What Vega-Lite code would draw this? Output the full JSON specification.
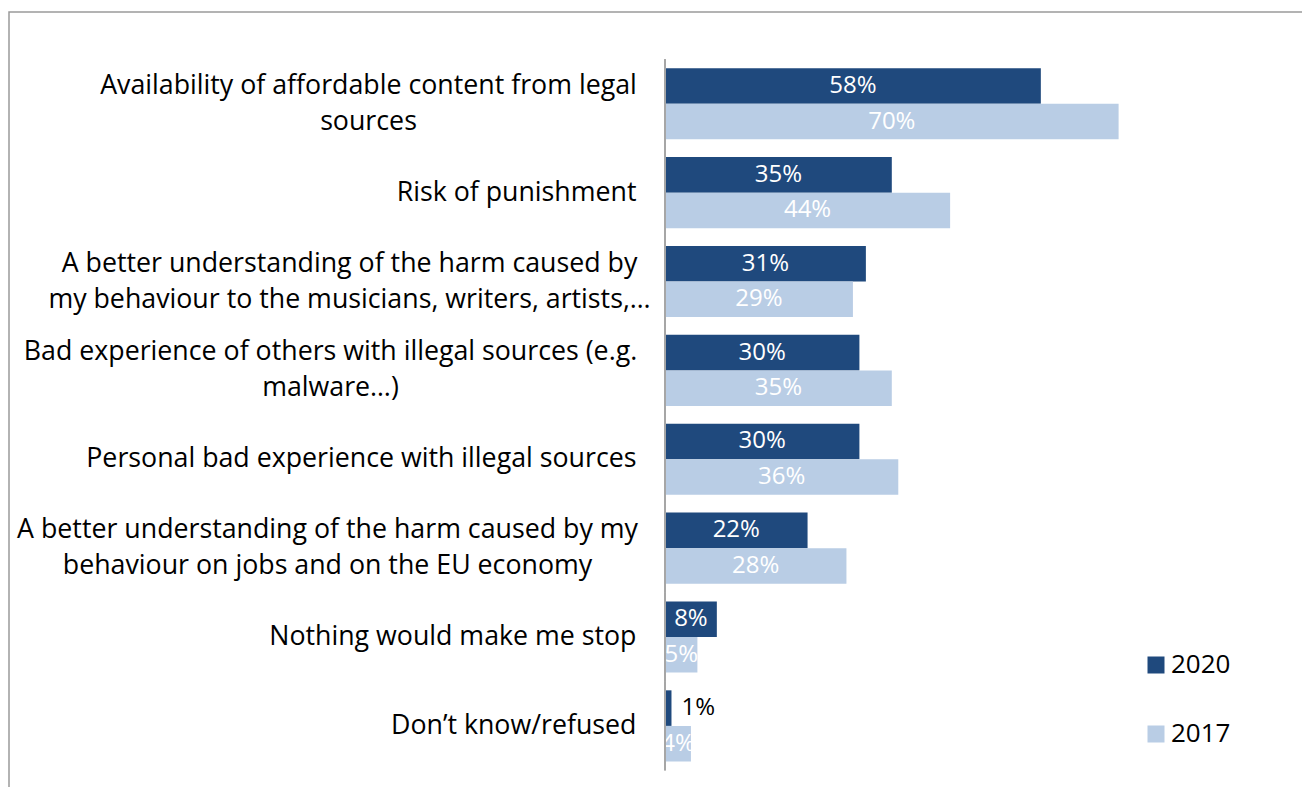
{
  "$schema": "https://vega.github.io/schema/vega-lite/v6.json",
  "autosize": "none",
  "width": 1299,
  "height": 785,
  "padding": {"left": 9, "top": 12, "right": -6, "bottom": -10},
  "background": "white",
  "config": {"view": {"stroke": "#9A9A9A", "strokeWidth": 1.5}, "font": "Open Sans"},
  "data": {
    "values": [
      {"item": "Availability of affordable content from legal|sources", "year": "2020", "value": 0.58},
      {"item": "Availability of affordable content from legal|sources", "year": "2017", "value": 0.70},
      {"item": "Risk of punishment", "year": "2020", "value": 0.35},
      {"item": "Risk of punishment", "year": "2017", "value": 0.44},
      {"item": "A better understanding of the harm caused by|my behaviour to the musicians, writers, artists,…", "year": "2020", "value": 0.31},
      {"item": "A better understanding of the harm caused by|my behaviour to the musicians, writers, artists,…", "year": "2017", "value": 0.29},
      {"item": "Bad experience of others with illegal sources (e.g.|malware…)", "year": "2020", "value": 0.30},
      {"item": "Bad experience of others with illegal sources (e.g.|malware…)", "year": "2017", "value": 0.35},
      {"item": "Personal bad experience with illegal sources", "year": "2020", "value": 0.30},
      {"item": "Personal bad experience with illegal sources", "year": "2017", "value": 0.36},
      {"item": "A better understanding of the harm caused by my|behaviour on jobs and on the EU economy", "year": "2020", "value": 0.22},
      {"item": "A better understanding of the harm caused by my|behaviour on jobs and on the EU economy", "year": "2017", "value": 0.28},
      {"item": "Nothing would make me stop", "year": "2020", "value": 0.08},
      {"item": "Nothing would make me stop", "year": "2017", "value": 0.05},
      {"item": "Don’t know/refused", "year": "2020", "value": 0.01},
      {"item": "Don’t know/refused", "year": "2017", "value": 0.04}
    ]
  },
  "encoding": {
    "y": {
      "field": "item",
      "type": "nominal",
      "sort": null,
      "scale": {"paddingInner": 0.2, "paddingOuter": 0.5163, "align": 0.6124, "round": false},
      "axis": {
        "title": null,
        "ticks": false,
        "domain": false,
        "offset": -656,
        "labelFontSize": 26.75,
        "labelFont": "Open Sans",
        "labelColor": "#000000",
        "labelLimit": 800,
        "labelLineHeight": 36,
        "labelBaseline": "middle",
        "labelAlign": {"condition": {"test": "indexof(datum.value, '|') >= 0", "value": "center"}, "value": "right"},
        "labelPadding": {
          "condition": [
            {"test": "indexof(datum.value, 'legal|') >= 0", "value": 297},
            {"test": "indexof(datum.value, 'artists') >= 0", "value": 316},
            {"test": "indexof(datum.value, 'malware') >= 0", "value": 335},
            {"test": "indexof(datum.value, 'EU economy') >= 0", "value": 338}
          ],
          "value": 29
        },
        "labelOffset": {"condition": {"test": "indexof(datum.value, '|') >= 0", "value": -18}, "value": 0},
        "labelExpr": "split(datum.label, '|')"
      }
    }
  },
  "layer": [
    {
      "mark": {"type": "bar"},
      "encoding": {
        "x": {"field": "value", "type": "quantitative", "scale": {"domain": [-1.01235, 0.99228], "nice": false}, "axis": null},
        "yOffset": {"field": "year", "type": "nominal", "sort": ["2020", "2017"]},
        "color": {
          "field": "year",
          "type": "nominal",
          "scale": {"domain": ["2020", "2017"], "range": ["#1F497D", "#B9CDE5"]},
          "legend": {
            "title": null,
            "orient": "none",
            "legendX": 1134,
            "legendY": 640,
            "symbolType": "square",
            "symbolSize": 289,
            "symbolStrokeWidth": 0,
            "symbolOpacity": 1,
            "labelFontSize": 26,
            "labelFont": "Open Sans",
            "labelColor": "#000000",
            "rowPadding": 43,
            "labelOffset": 2,
            "padding": 0
          }
        }
      }
    },
    {
      "transform": [{"filter": "datum.value >= 0.02"}],
      "mark": {"type": "text", "color": "white", "fontSize": 24, "font": "Open Sans"},
      "encoding": {
        "x": {"field": "value", "type": "quantitative", "scale": {"domain": [-2.0247, 1.98456], "nice": false}, "axis": null},
        "yOffset": {"field": "year", "type": "nominal", "sort": ["2020", "2017"]},
        "text": {"field": "value", "type": "quantitative", "format": ".0%"}
      }
    },
    {
      "transform": [{"filter": "datum.value < 0.02"}],
      "mark": {"type": "text", "color": "black", "fontSize": 24, "font": "Open Sans", "align": "left", "dx": 10},
      "encoding": {
        "x": {"field": "value", "type": "quantitative", "scale": {"domain": [-1.01235, 0.99228], "nice": false}, "axis": null},
        "yOffset": {"field": "year", "type": "nominal", "sort": ["2020", "2017"]},
        "text": {"field": "value", "type": "quantitative", "format": ".0%"}
      }
    },
    {
      "mark": {"type": "tick", "color": "#A6A6A6", "thickness": 2, "size": 89, "opacity": 1},
      "encoding": {
        "x": {"datum": 0, "type": "quantitative", "scale": {"domain": [-1.01235, 0.99228], "nice": false}, "axis": null}
      }
    }
  ],
  "resolve": {"scale": {"x": "independent"}}
}
